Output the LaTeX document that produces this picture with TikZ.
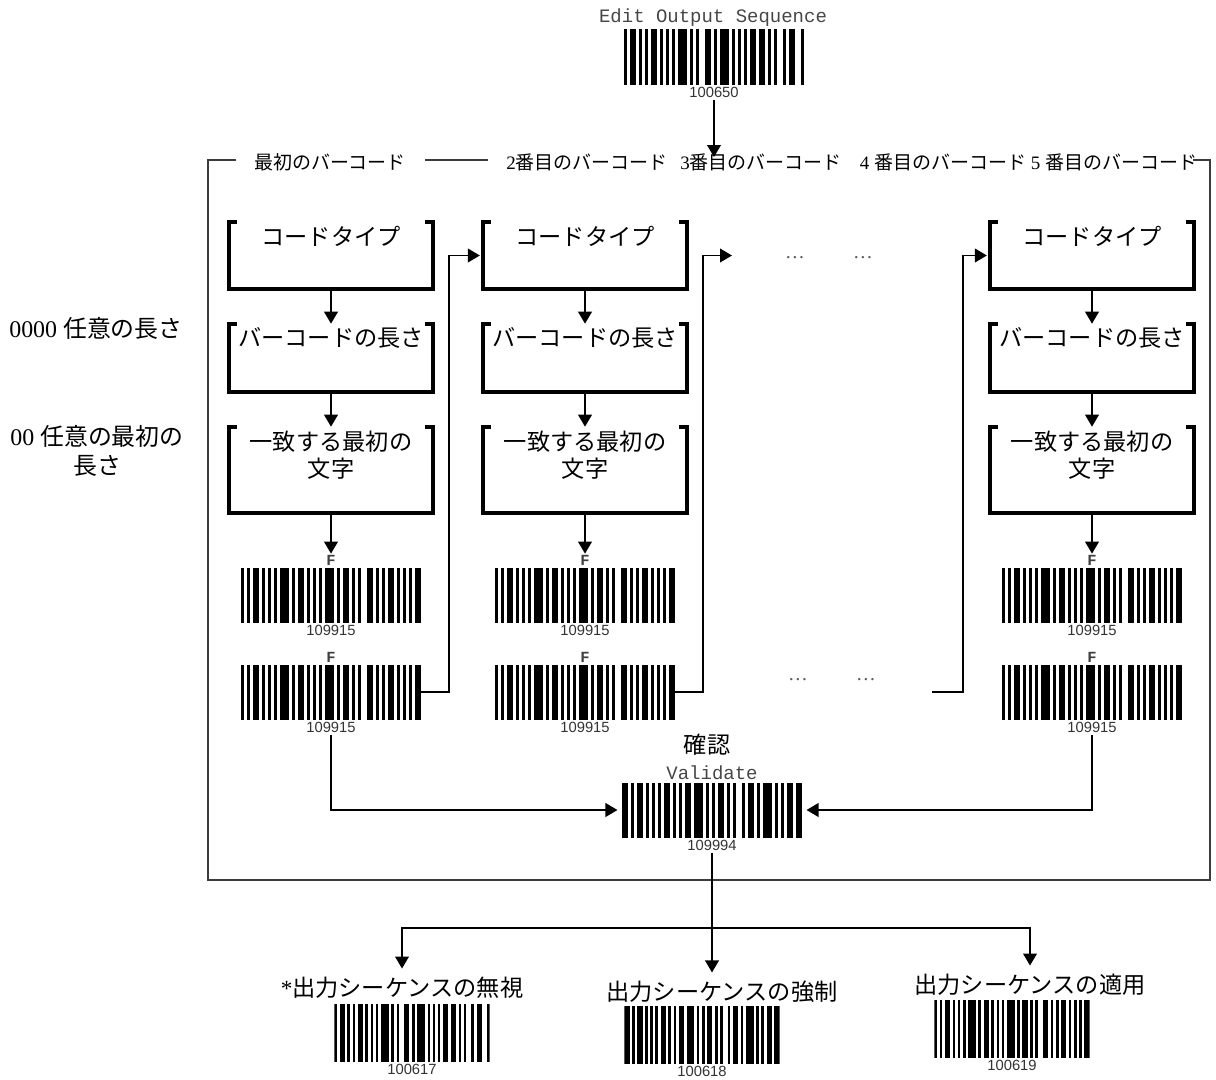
\documentclass[tikz,border=0pt]{standalone}
\usepackage{fontspec}
\setmainfont{Liberation Serif}
\newfontfamily\jpfont{Noto Sans CJK JP}
\newfontfamily\codefont{Liberation Mono}
\newfontfamily\numfont{Liberation Sans}
\usetikzlibrary{arrows.meta, positioning, calc}
\definecolor{framegray}{RGB}{60,60,60}
\definecolor{codegray}{RGB}{70,70,70}
\definecolor{dotgray}{RGB}{90,90,90}
\newcommand{\patA}{0/1,2/1,4/2,7/1,9/1,11/1,13/3,17/1,19/2,22/1,24/1,26/1,28/3,32/1,34/2,37/1,39/1,42/2,45/1,47/1,49/2,52/1,54/1,56/1,58/2}
\newcommand{\patB}{0/1,2/2,5/1,7/1,9/2,12/1,14/1,16/1,18/3,22/1,24/1,27/2,30/1,32/3,36/1,38/1,40/1,42/2,45/2,48/1,50/1,53/1,55/2,59/1}
\newcommand{\patC}{0/2,3/1,5/2,8/1,10/1,12/1,14/2,17/1,19/1,21/2,24/3,28/1,30/1,32/2,35/1,37/1,40/1,42/2,45/1,47/3,51/1,53/1,55/2,58/2}

\begin{document}
\begin{tikzpicture}[x=0.025cm, y=-0.025cm,
    arr/.style={line width=1.4pt, -{Triangle[length=0.3cm, width=0.34cm]}},
    boxline/.style={line width=2.8pt, line join=miter},
    frameline/.style={line width=1.2pt, framegray},
    stepbox/.style={minimum width=5.1cm, inner sep=0pt},
    boxtxt/.style={anchor=north, align=center, inner sep=2.5pt, font=\jpfont\fontsize{16.5}{19.5}\selectfont},
    bcode/.style={inner sep=0pt, minimum width=4.5cm, minimum height=1.375cm,
        path picture={\foreach \bs/\bw in #1 {\fill ($(path picture bounding box.south west)!{\bs/60}!(path picture bounding box.south east)$) rectangle ($(path picture bounding box.north west)!{(\bs+\bw)/60}!(path picture bounding box.north east)$);}}},
    numtxt/.style={font=\numfont\fontsize{10.5}{12}\selectfont, text=black!80, inner sep=1.5pt},
    ftag/.style={font=\codefont\bfseries\fontsize{11}{11}\selectfont, text=black!75, inner sep=0pt},
    codetxt/.style={font=\codefont\fontsize{13.5}{16}\selectfont, text=codegray, inner sep=1pt},
    hdr/.style={font=\fontsize{13.5}{16}\selectfont, inner sep=1pt},
    sidetxt/.style={font=\fontsize{17}{21}\selectfont, align=center},
    opttxt/.style={font=\fontsize{16.5}{20}\selectfont, inner sep=2pt},
    dottxt/.style={text=dotgray, font=\fontsize{14}{15}\selectfont}]

    \useasboundingbox (0,0) rectangle (1216,1079);

    \node[codetxt] (eos) at (713,18) {Edit Output Sequence};
    \node[bcode=\patB] (bc0) at (714,57) {};
    \node[numtxt, below=0pt of bc0] (n0) {100650};
    \coordinate (ftop) at (713,157);
    \draw[arr] (n0.south) -- (n0.south |- ftop);

    \draw[frameline] (236,160) -- (208,160) -- (208,880) -- (1210,880) -- (1210,160) -- (1193,160);
    \draw[frameline] (425,160) -- (488,160);

    \node[hdr] (hdr1) at (330,162) {{\jpfont 最初のバーコード}};
    \node[hdr] (hdr2) at (587,162) {2{\jpfont 番目のバーコード}};
    \node[hdr] (hdr3) at (761,162) {3{\jpfont 番目のバーコード}};
    \node[hdr] (hdr4) at (943,162) {4 {\jpfont 番目のバーコード}};
    \node[hdr] (hdr5) at (1114,162) {5 {\jpfont 番目のバーコード}};

    \node[sidetxt] (anylen) at (96,328) {0000 {\jpfont 任意の長さ}};
    \node[sidetxt] (anyfirst) at (97,451) {00 {\jpfont 任意の最初の}\\{\jpfont 長さ}};

    \foreach \c/\x in {1/331, 2/585, 3/1092} {
        \node[stepbox, minimum height=1.65cm, label={[boxtxt]north:コードタイプ}] (ct\c) at (\x,255.5) {};
        \node[stepbox, minimum height=1.7cm, label={[boxtxt]north:バーコードの長さ}] (bl\c) at (\x,358) {};
        \node[stepbox, minimum height=2.15cm, label={[boxtxt]north:一致する最初の\\文字}] (mf\c) at (\x,470) {};
        \foreach \b in {ct,bl,mf}
            \draw[boxline] ([xshift=0.2cm]\b\c.north west) -- (\b\c.north west) -- (\b\c.south west) -- (\b\c.south east) -- (\b\c.north east) -- ([xshift=-0.2cm]\b\c.north east);
        \draw[arr] (ct\c) -- (bl\c);
        \draw[arr] (bl\c) -- (mf\c);

        \node[bcode=\patA] (ba\c) at (\x,595) {};
        \node[ftag, above=1pt of ba\c] (fa\c) {F};
        \node[numtxt, below=0pt of ba\c] (na\c) {109915};
        \node[bcode=\patA] (bb\c) at (\x,692) {};
        \node[ftag, above=1pt of bb\c] (fb\c) {F};
        \node[numtxt, below=0pt of bb\c] (nb\c) {109915};
        \draw[arr, shorten >=1pt] (mf\c) -- (fa\c);
    }

    \coordinate (gapin) at (732,255.5);
    \coordinate (gapout) at (932,692);
    \draw[arr, shorten >=2pt] (bb1.east) -- ++(28,0) |- (ct2.west);
    \draw[arr] (bb2.east) -- ++(28,0) |- (gapin);
    \draw[arr, shorten >=2pt] (gapout) -- ++(31,0) |- (ct3.west);
    \node[dottxt] (dt1) at (795,258) {…};
    \node[dottxt] (dt2) at (863,258) {…};
    \node[dottxt] (db1) at (798,680) {…};
    \node[dottxt] (db2) at (866,680) {…};

    \node[opttxt] (cfm) at (707,745) {{\jpfont 確認}};
    \node[codetxt] (val) at (712,773) {Validate};
    \node[bcode=\patC] (bcv) at (712,810) {};
    \node[numtxt, below=0pt of bcv] (nv) {109994};
    \draw[arr, shorten >=3pt] (nb1.south) |- (bcv.west);
    \draw[arr, shorten >=3pt] (nb3.south) |- (bcv.east);

    \node[opttxt] (opt1) at (402,988) {*{\jpfont 出力シーケンスの無視}};
    \node[opttxt] (opt2) at (722,992) {{\jpfont 出力シーケンスの強制}};
    \node[opttxt] (opt3) at (1030,985) {{\jpfont 出力シーケンスの適用}};
    \coordinate (split) at (713,928);
    \draw[arr, shorten >=4pt] (nv.south) -- (nv.south |- opt2.north);
    \draw[arr, shorten >=4pt] (split) -| (opt1.north);
    \draw[arr, shorten >=4pt] (split) -| (opt3.north);

    \node[bcode=\patB, minimum width=3.875cm, minimum height=1.45cm] (bo1) at (412,1033) {};
    \node[numtxt, inner sep=1pt, below=0pt of bo1] (no1) {100617};
    \node[bcode=\patC, minimum width=3.875cm, minimum height=1.45cm] (bo2) at (702,1035) {};
    \node[numtxt, inner sep=1pt, below=0pt of bo2] (no2) {100618};
    \node[bcode=\patA, minimum width=3.875cm, minimum height=1.45cm] (bo3) at (1012,1029) {};
    \node[numtxt, inner sep=1pt, below=0pt of bo3] (no3) {100619};
\end{tikzpicture}
\end{document}
